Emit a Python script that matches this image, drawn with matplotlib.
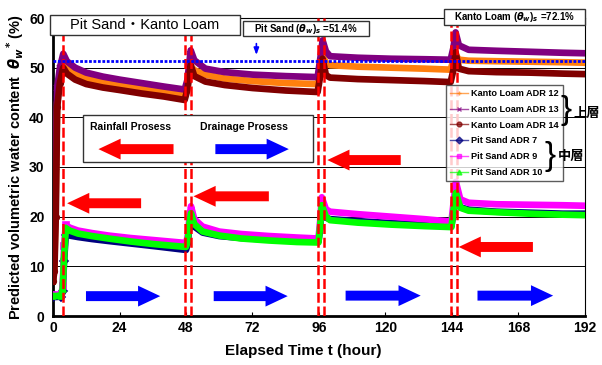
import matplotlib
matplotlib.use("Agg")
import matplotlib.pyplot as plt
from matplotlib.lines import Line2D

plt.rcParams["font.family"] = ["Liberation Sans", "Noto Sans CJK JP", "DejaVu Sans"]
plt.rcParams["font.weight"] = "bold"

# Kanto Loam (upper layer) sensors
t_loam = [0, 0.5, 1.0, 1.5, 2.5, 3.7, 5, 8, 12, 18, 24, 32, 40, 47.5,
          48.5, 49.7, 51, 55, 62, 72, 84, 95.5,
          96.5, 97.3, 98.5, 100, 110, 122, 134, 143.5,
          144.5, 145.3, 146.5, 150, 160, 172, 184, 192]
adr12 = [7, 10, 25, 43, 48, 51.0, 50.0, 48.8, 47.8, 47.1, 46.6, 46.0, 45.4, 44.6,
         46.5, 50.3, 49.5, 48.6, 47.8, 47.3, 46.9, 46.7,
         49.5, 52.3, 51.0, 50.5, 50.2, 50.0, 49.8, 49.6,
         51.5, 52.6, 51.6, 51.4, 51.3, 51.2, 51.1, 51.0]
adr13 = [8, 12, 30, 46, 50, 52.8, 51.3, 50.0, 49.0, 48.2, 47.6, 46.9, 46.2, 45.6,
         47.5, 53.5, 51.5, 49.8, 49.1, 48.6, 48.3, 48.1,
         52.0, 55.5, 53.3, 52.3, 52.0, 51.8, 51.7, 51.6,
         54.0, 57.1, 54.5, 53.6, 53.4, 53.2, 53.0, 52.9]
adr14 = [7, 9, 20, 42, 47, 50.0, 48.8, 47.6, 46.7, 46.0, 45.5, 44.8, 44.2, 43.5,
         45.5, 50.5, 48.3, 47.2, 46.5, 45.9, 45.4, 45.1,
         48.5, 51.8, 48.5, 48.0, 47.7, 47.5, 47.3, 47.1,
         49.5, 53.1, 49.8, 49.3, 49.1, 49.0, 48.8, 48.7]

# Pit Sand (middle layer) sensors
t_sand = [0, 3.0, 3.5, 4.0, 4.6, 6, 9, 14, 20, 28, 36, 42, 48,
          48.6, 49.2, 49.8, 51, 54, 60, 68, 78, 88, 95.8,
          96.4, 97.0, 98.5, 100, 110, 122, 134, 143.8,
          144.6, 145.4, 147, 150, 160, 172, 184, 192]
adr7 = [3.8, 3.9, 5, 11, 16.3, 16.2, 15.9, 15.5, 15.1, 14.6, 14.1, 13.7, 13.3,
        14.5, 18, 20.2, 18, 16.8, 16.1, 15.7, 15.4, 15.1, 15.0,
        17.5, 21.8, 19.8, 19.5, 19.1, 18.7, 18.4, 18.2,
        21, 24.5, 21.9, 21.4, 21.0, 20.8, 20.6, 20.6]
adr9 = [4.2, 4.3, 6, 14, 18.3, 17.8, 17.2, 16.7, 16.2, 15.7, 15.3, 15.0, 14.7,
        16, 19.5, 22.1, 19.5, 18.0, 17.0, 16.5, 16.1, 15.8, 15.6,
        19, 23.9, 21.5, 21.0, 20.5, 20.0, 19.5, 19.0,
        23, 27, 23.5, 22.8, 22.5, 22.4, 22.3, 22.2]
adr10 = [4.0, 4.1, 5.5, 12, 17.7, 17.2, 16.6, 16.1, 15.6, 15.0, 14.5, 14.2, 13.9,
         15, 18.5, 20.7, 18.5, 17.0, 16.2, 15.6, 15.2, 14.9, 14.8,
         18, 22.3, 20.0, 19.3, 18.8, 18.4, 18.1, 17.9,
         21.5, 24.8, 21.8, 21.2, 20.9, 20.6, 20.4, 20.3]

rain_lines = [3.7, 47.6, 49.7, 95.6, 97.7, 143.6, 145.8]
sat_sand = 51.4
sat_loam = 72.1

# arrows: (tail, tip, level)
rain_arrows = [(31.8, 5.1, 22.7), (77.9, 50.7, 24.1), (125.5, 99.0, 31.4), (173.2, 146.4, 13.9)]
drain_arrows = [(11.9, 38.7, 4.0), (58.0, 84.7, 4.0), (105.6, 132.7, 4.1), (153.2, 180.5, 4.1)]

W, H = 602, 365
fig = plt.figure(figsize=(W / 100, H / 100), dpi=100)
ax = fig.add_axes([53 / W, 1 - 316 / H, 532 / W, 298 / H])

series = [
    (t_loam, adr12, "#ff7f0e", "+", "Kanto Loam ADR 12"),
    (t_loam, adr13, "#800080", "x", "Kanto Loam ADR 13"),
    (t_loam, adr14, "#800000", "o", "Kanto Loam ADR 14"),
    (t_sand, adr7, "#000080", "D", "Pit Sand ADR 7"),
    (t_sand, adr9, "#ff00ff", "s", "Pit Sand ADR 9"),
    (t_sand, adr10, "#00ff00", "^", "Pit Sand ADR 10"),
]
handles = []
for t, v, col, mk, lab in series:
    ax.plot(t, v, color=col, lw=4.8, solid_joinstyle="round", zorder=3)
    ax.plot(t[:5], v[:5], color=col, lw=1, marker=mk, ms=4, mew=1.2, zorder=3)
    handles.append(Line2D([], [], color=col, lw=1, marker=mk, ms=3.5, mew=1, alpha=0.7, label=lab))

for x in rain_lines:
    ax.axvline(x, color="red", lw=1.8, ls=(0, (4, 1.5)), zorder=4)

ax.axhline(sat_sand, color="blue", lw=2, ls=(0, (1, 0.6)), zorder=4)
ax.annotate("", xy=(73.4, 52.0), xytext=(73.4, 55.4),
            arrowprops=dict(arrowstyle="-|>,head_width=0.15,head_length=0.4", color="blue", lw=1.2), zorder=5)

for tail, tip, lev in rain_arrows:
    ax.arrow(tail, lev, tip - tail, 0, width=2.0, head_width=4.2, head_length=8.0,
             length_includes_head=True, color="red", lw=0, zorder=5)
for tail, tip, lev in drain_arrows:
    ax.arrow(tail, lev, tip - tail, 0, width=2.0, head_width=4.2, head_length=8.0,
             length_includes_head=True, color="blue", lw=0, zorder=5)

# process key box
ax.add_patch(plt.Rectangle((11.0, 31.0), 83.0, 9.4, facecolor="white", edgecolor="#333333", lw=1, zorder=6))
ax.text(13.5, 38.1, "Rainfall Prosess", fontsize=7.5, va="center", ha="left", zorder=7)
ax.text(53.2, 38.1, "Drainage Prosess", fontsize=7.5, va="center", ha="left", zorder=7)
ax.arrow(43.5, 33.6, -27.1, 0, width=2.0, head_width=4.2, head_length=8.0,
         length_includes_head=True, color="red", lw=0, zorder=7)
ax.arrow(58.6, 33.6, 26.5, 0, width=2.0, head_width=4.2, head_length=8.0,
         length_includes_head=True, color="blue", lw=0, zorder=7)

ax.set_xlim(0, 192)
ax.set_ylim(0, 60)
ax.set_xticks(range(0, 193, 24))
ax.set_yticks(range(0, 61, 10))
ax.tick_params(axis="both", labelsize=10, direction="in", length=3)
ax.tick_params(axis="y", length=0, pad=6)
ax.yaxis.grid(True, color="black", lw=0.7)
ax.set_axisbelow(True)
for s in ["left", "bottom"]:
    ax.spines[s].set_linewidth(2)
for s in ["top", "right"]:
    ax.spines[s].set_linewidth(0.8)

ax.set_xlabel("Elapsed Time t (hour)", fontsize=11, weight="bold")
ax.xaxis.set_label_coords((303 - 53) / 532, -0.095)
ax.set_ylabel("Predicted volumetric water content  $\\theta_w$$^{*}$ (%)", fontsize=10.5, weight="bold", labelpad=2)


def label_box(x0, y0, x1, y1, text, size, weight="bold"):
    # box given in pixel coordinates from the top-left corner
    fig.patches.append(plt.Rectangle((x0 / W, 1 - y1 / H), (x1 - x0) / W, (y1 - y0) / H,
                                     transform=fig.transFigure, facecolor="white",
                                     edgecolor="#333333", lw=1, zorder=10))
    fig.text((x0 + x1) / 2 / W, 1 - (y0 + y1) / 2 / H, text, fontsize=size, weight=weight,
             ha="center", va="center", zorder=11)


label_box(50, 15, 240, 35, "Pit Sand\u30fbKanto Loam", 10.5, weight="normal")
label_box(243, 21, 369, 36, "Pit Sand ($\\theta_w$)$_s$ =%.1f%%" % sat_sand, 7)
label_box(444, 9, 585, 25, "Kanto Loam ($\\theta_w$)$_s$ =%.1f%%" % sat_loam, 7)

leg = ax.legend(handles=handles, loc="upper left", bbox_to_anchor=((446 - 53) / 532, (316 - 85) / 298),
                prop=dict(weight="bold", size=6.6),
                frameon=True, fancybox=False, edgecolor="#333333", handlelength=1.9,
                handletextpad=0.35, labelspacing=0.74, borderpad=0.45, borderaxespad=0)
leg.get_frame().set_linewidth(1)
leg.set_zorder(8)

fig.text(566 / W, 1 - 110 / H, "}", fontsize=24, weight="light", ha="center", va="center")
fig.text(550 / W, 1 - 156 / H, "}", fontsize=24, weight="light", ha="center", va="center")
fig.text(587 / W, 1 - 113 / H, "上層", fontsize=9.5, ha="center", va="center", family=["Noto Sans CJK JP"], weight="bold")
fig.text(571 / W, 1 - 156 / H, "中層", fontsize=9.5, ha="center", va="center", family=["Noto Sans CJK JP"], weight="bold")

fig.savefig("out.png", dpi=100)
